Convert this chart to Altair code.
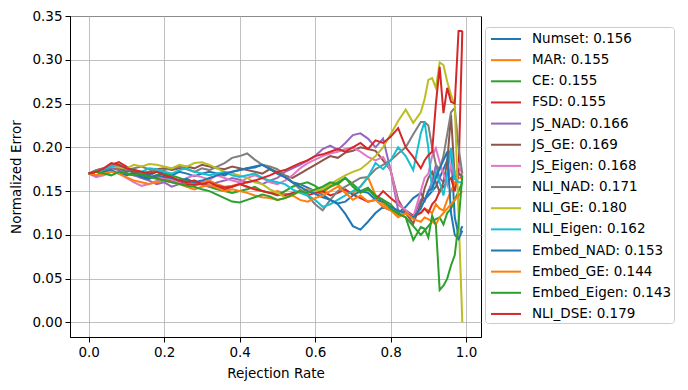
import altair as alt
import pandas as pd

rate = [0.00, 0.02, 0.04, 0.06, 0.08, 0.10, 0.12, 0.14, 0.16, 0.18, 0.20,
        0.22, 0.24, 0.26, 0.28, 0.30, 0.32, 0.34, 0.36, 0.38, 0.40,
        0.42, 0.44, 0.46, 0.48, 0.50, 0.52, 0.54, 0.56, 0.58, 0.60,
        0.62, 0.64, 0.66, 0.68, 0.70, 0.72, 0.74, 0.76, 0.78, 0.80, 0.82, 0.84, 0.86, 0.88,
        0.89, 0.90, 0.91, 0.92, 0.93, 0.94, 0.95, 0.96, 0.97, 0.98, 0.99]

labels = ["Numset: 0.156", "MAR: 0.155", "CE: 0.155", "FSD: 0.155", "JS_NAD: 0.166",
          "JS_GE: 0.169", "JS_Eigen: 0.168", "NLI_NAD: 0.171", "NLI_GE: 0.180",
          "NLI_Eigen: 0.162", "Embed_NAD: 0.153", "Embed_GE: 0.144",
          "Embed_Eigen: 0.143", "NLI_DSE: 0.179"]

colors = ["#1f77b4", "#ff7f0e", "#2ca02c", "#d62728", "#9467bd", "#8c564b", "#e377c2",
          "#7f7f7f", "#bcbd22", "#17becf", "#1f77b4", "#ff7f0e", "#2ca02c", "#d62728"]

numset = [.170, .172, .175, .178, .176, .172, .174, .170, .168, .172, .170,
          .168, .172, .170, .167, .170, .172, .170, .168, .172, .174,
          .176, .178, .180, .176, .170, .166, .160, .158, .154, .150,
          .146, .140, .135, .124, .110, .106, .115, .125, .132, .128, .125, .132, .142, .148,
          .140, .145, .150, .155, .165, .175, .185, .198, .120, .100, .110]
mar = [.170, .172, .176, .178, .174, .170, .168, .166, .165, .167, .166,
       .165, .162, .160, .158, .160, .162, .158, .155, .156, .158,
       .155, .152, .150, .148, .150, .147, .146, .150, .152, .150,
       .148, .155, .158, .150, .147, .155, .166, .145, .135, .130, .122, .125, .120, .125,
       .130, .128, .125, .135, .130, .128, .140, .150, .160, .165, .165]
ce = [.170, .172, .174, .176, .178, .175, .170, .168, .166, .168, .170,
      .168, .165, .162, .160, .158, .155, .152, .150, .148, .150,
      .152, .155, .150, .148, .145, .150, .155, .158, .160, .156,
      .150, .155, .160, .165, .158, .150, .154, .145, .140, .135, .125, .120, .110, .100,
      .105, .110, .115, .118, .120, .112, .125, .130, .140, .150, .160]
fsd = [.170, .174, .176, .180, .183, .178, .172, .170, .166, .165, .163,
       .162, .160, .158, .157, .158, .156, .155, .152, .155, .158,
       .155, .152, .150, .148, .146, .145, .148, .150, .145, .148,
       .150, .145, .148, .152, .146, .142, .138, .140, .150, .142, .135, .128, .122, .125,
       .130, .125, .135, .140, .150, .155, .160, .165, .150, .170, .333]
js_nad = [.170, .168, .172, .176, .174, .170, .168, .165, .162, .158, .160,
          .155, .158, .160, .162, .158, .155, .160, .162, .165, .163,
          .160, .162, .158, .162, .165, .172, .176, .180, .185, .190,
          .198, .202, .197, .205, .214, .216, .210, .200, .210, .174, .128, .124, .120, .140,
          .138, .150, .160, .180, .165, .160, .170, .175, .165, .170, .165]
js_ge = [.170, .172, .175, .178, .176, .174, .172, .170, .172, .175, .176,
         .174, .176, .178, .176, .180, .178, .176, .175, .178, .176,
         .174, .172, .170, .175, .172, .168, .165, .170, .175, .180,
         .185, .190, .188, .194, .196, .200, .198, .196, .185, .174, .140, .125, .113, .135,
         .153, .165, .172, .160, .149, .160, .183, .237, .165, .170, .168]
js_eigen = [.170, .166, .168, .172, .170, .165, .160, .156, .158, .162, .165,
            .163, .160, .165, .168, .166, .163, .168, .165, .162, .160,
            .165, .168, .165, .160, .158, .162, .168, .176, .182, .186,
            .190, .193, .195, .198, .200, .195, .189, .185, .189, .174, .136, .128, .120, .150,
            .165, .170, .190, .199, .183, .170, .157, .180, .168, .180, .170]
nli_nad = [.170, .174, .176, .180, .178, .174, .176, .178, .175, .172, .174,
           .176, .178, .175, .172, .176, .174, .178, .182, .188, .190,
           .193, .186, .180, .178, .175, .168, .160, .152, .145, .135,
           .128, .140, .150, .155, .160, .165, .166, .175, .180, .185, .193, .200, .215, .229,
           .229, .225, .200, .180, .175, .190, .215, .240, .245, .200, .170]
nli_ge = [.170, .172, .176, .178, .177, .176, .180, .178, .181, .180, .178,
          .176, .180, .178, .182, .183, .180, .176, .172, .170, .168,
          .165, .160, .158, .152, .148, .143, .145, .150, .148, .150,
          .152, .158, .163, .168, .172, .175, .182, .190, .200, .215, .230, .243, .228, .240,
          .255, .277, .279, .268, .297, .294, .275, .260, .248, .124, .000]
nli_eigen = [.170, .172, .175, .178, .180, .176, .174, .172, .176, .175, .172,
             .170, .174, .176, .172, .170, .168, .170, .172, .168, .166,
             .168, .170, .165, .162, .160, .158, .152, .148, .145, .140,
             .132, .135, .140, .145, .150, .155, .166, .182, .175, .185, .200, .190, .174, .216,
             .229, .199, .149, .172, .160, .145, .170, .199, .165, .160, .160]
embed_nad = [.170, .168, .172, .174, .170, .168, .170, .166, .164, .168, .166,
             .165, .162, .164, .160, .162, .165, .168, .170, .172, .174,
             .176, .177, .180, .175, .170, .166, .160, .155, .150, .147,
             .143, .140, .136, .138, .145, .150, .148, .140, .138, .132, .128, .125, .120, .130,
             .140, .150, .153, .165, .176, .185, .195, .125, .100, .095, .105]
embed_ge = [.170, .168, .170, .172, .170, .166, .162, .160, .158, .160, .162,
            .160, .158, .155, .152, .155, .157, .154, .150, .152, .150,
            .148, .145, .143, .142, .140, .142, .145, .140, .138, .142,
            .145, .150, .155, .148, .140, .145, .138, .140, .132, .128, .120, .125, .118, .115,
            .120, .118, .115, .112, .120, .125, .130, .135, .140, .145, .150]
embed_eigen = [.170, .172, .170, .168, .172, .170, .168, .170, .166, .164, .162,
               .160, .158, .156, .155, .152, .150, .146, .142, .138, .137,
               .140, .143, .146, .144, .140, .142, .146, .150, .148, .152,
               .155, .160, .158, .165, .155, .148, .152, .143, .140, .130, .124, .120, .094, .109,
               .107, .097, .122, .111, .037, .042, .050, .065, .077, .114, .168]
nli_dse = [.170, .172, .176, .182, .180, .176, .174, .172, .170, .172, .168,
           .166, .162, .160, .162, .158, .160, .156, .154, .155, .158,
           .160, .162, .165, .168, .172, .174, .178, .182, .185, .190,
           .192, .195, .198, .195, .200, .205, .198, .208, .205, .212, .222, .200, .189, .176,
           .185, .191, .195, .250, .292, .239, .268, .252, .250, .333, .333]

series = [numset, mar, ce, fsd, js_nad, js_ge, js_eigen, nli_nad, nli_ge,
          nli_eigen, embed_nad, embed_ge, embed_eigen, nli_dse]

FONT = "DejaVu Sans"

color_enc = alt.Color(
    "series:N",
    scale=alt.Scale(domain=labels, range=colors),
    sort=labels,
    legend=alt.Legend(
        title=None, orient="none", legendX=415, legendY=11,
        symbolType="M-0.667,0H2.667", symbolSize=324, symbolStrokeWidth=2,
        labelFontSize=13.5, labelFont=FONT, labelColor="black", labelOffset=25,
        rowPadding=4.15, padding=2, strokeColor="#cccccc", cornerRadius=3,
        fillColor="white", labelLimit=300,
    ),
)

x_enc = alt.X("rate:Q", scale=alt.Scale(domain=[-0.0495, 1.0395], nice=False, zero=False),
              axis=alt.Axis(title="Rejection Rate", values=[0, 0.2, 0.4, 0.6, 0.8, 1.0], format=".1f"))
y_enc = alt.Y("err:Q", scale=alt.Scale(domain=[-0.01665, 0.35], nice=False, zero=False),
              axis=alt.Axis(title="Normalized Error",
                            values=[0, 0.05, 0.1, 0.15, 0.2, 0.25, 0.3, 0.35], format=".2f"))

layers = []
for lab, vals in zip(labels, series):
    d = pd.DataFrame({"rate": rate, "err": vals, "series": lab})
    layers.append(alt.Chart(d).mark_line(strokeWidth=2, clip=True).encode(x=x_enc, y=y_enc, color=color_enc))

chart = alt.layer(*layers).properties(
    width=411, height=321,
    autosize=alt.AutoSizeParams(type="none"),
    padding={"left": 62, "top": 8, "right": 199, "bottom": 45},
).configure_view(stroke="black", strokeWidth=1).configure_axis(
    labelFont=FONT, titleFont=FONT, labelFontSize=13.5, titleFontSize=13.5,
    titleFontWeight="normal", labelColor="black", titleColor="black",
    gridColor="#b0b0b0", gridWidth=0.8, domainColor="black", tickColor="black",
    tickSize=5, labelPadding=3,
).configure_axisX(titlePadding=8).configure_axisY(titlePadding=8)

chart.save("out.html", embed_options={"renderer": "svg", "actions": False})
